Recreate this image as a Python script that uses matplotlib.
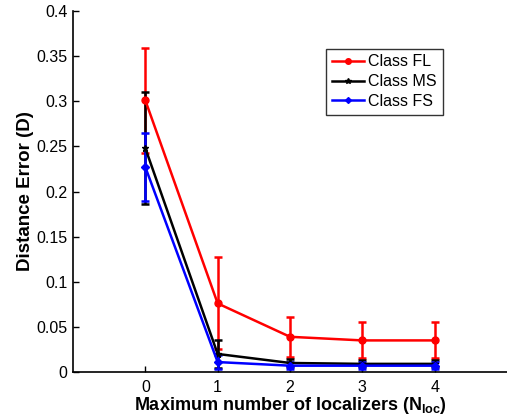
import numpy as np
import matplotlib
matplotlib.use("Agg")
import matplotlib.pyplot as plt
from matplotlib.lines import Line2D

plt.rcParams['font.family'] = ['Liberation Sans', 'DejaVu Sans']
plt.rcParams['mathtext.fontset'] = 'custom'
plt.rcParams['mathtext.rm'] = 'Liberation Sans'
plt.rcParams['mathtext.bf'] = 'Liberation Sans:bold'

n_loc = [0, 1, 2, 3, 4]

fl_mean = [0.301, 0.076, 0.039, 0.035, 0.035]
fl_err = [0.058, 0.051, 0.022, 0.020, 0.020]

ms_mean = [0.248, 0.020, 0.010, 0.009, 0.009]
ms_err = [0.062, 0.016, 0.004, 0.004, 0.004]

fs_mean = [0.227, 0.011, 0.007, 0.007, 0.007]
fs_err = [0.038, 0.008, 0.004, 0.004, 0.004]

labels = ["Class FL", "Class MS", "Class FS"]
colors = ["#ff0000", "#000000", "#0000ff"]
markers = ["o", "*", "D"]
msizes = [5, 5, 4]

fig = plt.figure(figsize=(5.07, 4.18), dpi=100)
ax = fig.add_axes([73 / 507, (418 - 372) / 418, (507 - 73) / 507, (372 - 11) / 418])

handles = []
for mean, err, lab, col, mk, ms in zip([fl_mean, ms_mean, fs_mean], [fl_err, ms_err, fs_err],
                                       labels, colors, markers, msizes):
    ax.errorbar(n_loc, mean, yerr=err, color=col, marker=mk, markersize=ms, linewidth=1.8,
                elinewidth=1.8, capsize=3, capthick=1.8)
    handles.append(Line2D([], [], color=col, marker=mk, markersize=ms - 1, linewidth=1.8, label=lab))

ax.set_xlim(-1, 5)
ax.set_ylim(0, 0.4)
ax.set_xticks(n_loc)
ax.set_yticks(np.arange(0, 0.401, 0.05))
ax.set_yticklabels(["0", "0.05", "0.1", "0.15", "0.2", "0.25", "0.3", "0.35", "0.4"])
ax.tick_params(direction='in', labelsize=11.5, length=4, width=1)
ax.tick_params(axis='x', pad=6)
ax.tick_params(axis='y', pad=4)
ax.spines['top'].set_visible(False)
ax.spines['right'].set_visible(False)
ax.spines['left'].set_linewidth(1.2)
ax.spines['bottom'].set_linewidth(1.2)

ax.set_xlabel(r"Maximum number of localizers (N$_{\mathbf{loc}}$)", fontsize=13, fontweight='bold', labelpad=0)
ax.set_ylabel("Distance Error (D)", fontsize=13.5, fontweight='bold', labelpad=2)

leg = ax.legend(handles=handles, loc='upper left', bbox_to_anchor=(0.583, 0.895), fontsize=11.5,
                frameon=True, fancybox=False, edgecolor='black', handlelength=2.0,
                handletextpad=0.3, borderpad=0.35, labelspacing=0.3, borderaxespad=0)
leg.get_frame().set_linewidth(1.0)

fig.savefig("out.png", dpi=100)
